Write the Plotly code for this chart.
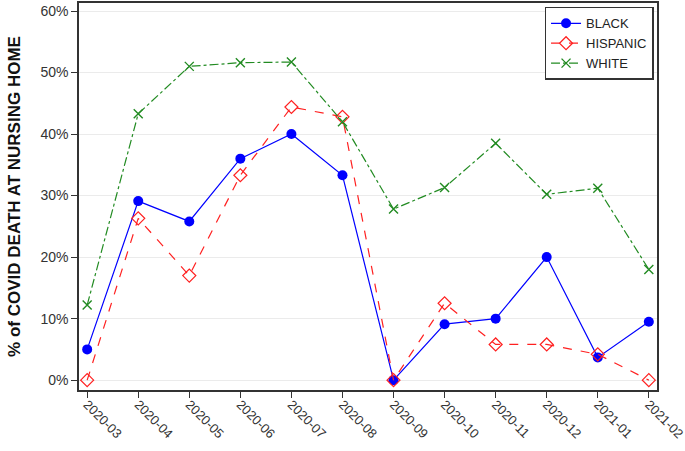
import plotly.graph_objects as go

months = ["2020-03", "2020-04", "2020-05", "2020-06", "2020-07", "2020-08",
          "2020-09", "2020-10", "2020-11", "2020-12", "2021-01", "2021-02"]
black = [5.0, 29.1, 25.8, 36.0, 40.0, 33.3, 0.0, 9.1, 10.0, 20.0, 3.7, 9.5]
hispanic = [0.0, 26.3, 17.0, 33.3, 44.4, 42.8, 0.0, 12.5, 5.8, 5.8, 4.2, 0.0]
white = [12.2, 43.3, 51.0, 51.6, 51.7, 42.0, 27.8, 31.3, 38.5, 30.2, 31.2, 18.0]
y_ticks = [0, 10, 20, 30, 40, 50, 60]
y_labels = ["%d%%" % v for v in y_ticks]

fig = go.Figure()
fig.add_trace(go.Scatter(x=months, y=black, name="BLACK", mode="lines+markers",
                         line=dict(color="#0000ff", width=1.2),
                         marker=dict(symbol="circle", size=10, color="#0000ff")))
fig.add_trace(go.Scatter(x=months, y=hispanic, name="HISPANIC", mode="lines+markers",
                         line=dict(color="#ff2020", width=1.2, dash="dash"),
                         marker=dict(symbol="diamond-open", size=10, color="#ff2020", line=dict(width=1.2))))
fig.add_trace(go.Scatter(x=months, y=white, name="WHITE", mode="lines+markers",
                         line=dict(color="#228b22", width=1.2, dash="dashdot"),
                         marker=dict(symbol="x-thin-open", size=9, color="#228b22", line=dict(width=1.4, color="#228b22"))))

fig.update_layout(
    width=685, height=451,
    margin=dict(l=79, r=28, t=3, b=61),
    paper_bgcolor="white", plot_bgcolor="white",
    font=dict(family="Liberation Sans, Arial", size=14, color="#333333"),
    showlegend=True,
    legend=dict(x=0.994, y=0.99, xanchor="right", yanchor="top",
                bordercolor="#333333", borderwidth=1.5, bgcolor="white",
                font=dict(size=13, color="#222222"), tracegroupgap=0),
)
fig.update_xaxes(type="category", range=[-0.16, 11.16], tickangle=45, automargin=False,
                 showline=True, linecolor="#333333", linewidth=1.5, mirror=True,
                 ticks="outside", ticklen=6, tickcolor="#333333", showgrid=False,
                 ticklabelstandoff=-6, tickfont=dict(size=13))
fig.update_yaxes(range=[-1.6, 61.3], tickvals=y_ticks, ticktext=y_labels, automargin=False,
                 showline=True, linecolor="#333333", linewidth=1.5, mirror=True,
                 ticks="outside", ticklen=6, tickcolor="#333333",
                 showgrid=True, gridcolor="#ebebeb", zeroline=False,
                 title=dict(text="<b>% of COVID DEATH AT NURSING HOME</b>",
                            font=dict(size=17, color="#111111")))

# drop the page's default 8px body margin so the figure sits at the window corner
fig.write_html("out.html", config={"displayModeBar": False},
               post_script="document.body.style.margin='0';")
